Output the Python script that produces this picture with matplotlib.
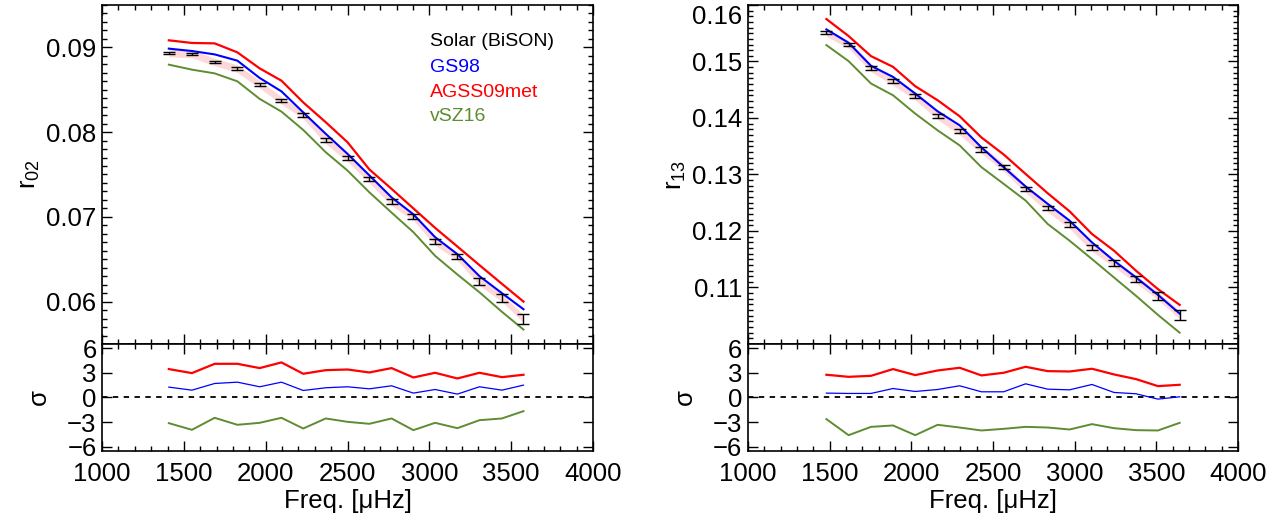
import matplotlib
matplotlib.use('Agg')
import matplotlib.pyplot as plt
from matplotlib.ticker import MultipleLocator

plt.rcParams['font.family'] = ['Liberation Sans', 'DejaVu Sans']
plt.rcParams['mathtext.fontset'] = 'custom'
plt.rcParams['mathtext.rm'] = 'Liberation Sans'
plt.rcParams['mathtext.it'] = 'Liberation Sans'

# r02 ratios (left)
freq02 = [1408, 1549, 1688, 1827, 1963, 2096, 2229, 2367, 2500,
          2633, 2769, 2902, 3035, 3171, 3306, 3443, 3575]
r02_sun = [0.08934, 0.08922, 0.08828, 0.08749, 0.08564, 0.08375, 0.08203, 0.07908, 0.07696,
           0.07448, 0.07177, 0.07004, 0.06709, 0.06532, 0.06237, 0.06045, 0.05797]
r02_err = [0.00015, 0.00015, 0.00015, 0.00018, 0.0002, 0.0002, 0.0002, 0.00025, 0.00025,
           0.00025, 0.0003, 0.0003, 0.0003, 0.00035, 0.0004, 0.0005, 0.0006]
r02_band = 0.00045
r02_gs98 = [0.08985, 0.08957, 0.08917, 0.08843, 0.08639, 0.08481, 0.08233, 0.07979, 0.07743,
            0.0749, 0.0723, 0.0703, 0.0676, 0.0656, 0.0630, 0.0610, 0.0591]
r02_agss09 = [0.09083, 0.09052, 0.09047, 0.08941, 0.08752, 0.08607, 0.08351, 0.08116, 0.07880,
              0.0756, 0.0733, 0.0710, 0.0687, 0.0665, 0.0643, 0.0621, 0.0600]
r02_vsz16 = [0.08796, 0.08737, 0.08693, 0.08599, 0.08392, 0.08242, 0.08026, 0.07762, 0.07546,
             0.0729, 0.0705, 0.0682, 0.0654, 0.0632, 0.0611, 0.0588, 0.0567]
sig02_gs98 = [1.26, 0.89, 1.70, 1.86, 1.30, 1.86, 0.85, 1.18, 1.30,
              1.05, 1.42, 0.53, 0.97, 0.41, 1.30, 0.89, 1.50]
sig02_agss09 = [3.45, 2.96, 4.09, 4.09, 3.57, 4.26, 2.88, 3.32, 3.40,
                3.04, 3.57, 2.43, 3.00, 2.31, 3.00, 2.47, 2.76]
sig02_vsz16 = [-3.12, -3.93, -2.47, -3.32, -3.08, -2.47, -3.77, -2.55, -2.96,
               -3.20, -2.55, -3.97, -3.08, -3.73, -2.76, -2.55, -1.66]

# r13 ratios (right)
freq13 = [1480, 1616, 1753, 1888, 2024, 2161, 2296, 2429, 2565,
          2700, 2835, 2969, 3106, 3241, 3376, 3510, 3643]
r13_sun = [0.15515, 0.15302, 0.14887, 0.14651, 0.14390, 0.14042, 0.13769, 0.13441, 0.13130,
           0.12746, 0.12409, 0.12112, 0.11710, 0.11432, 0.11148, 0.10852, 0.10515]
r13_err = [0.0003, 0.0003, 0.0003, 0.00035, 0.00035, 0.00035, 0.0004, 0.0004, 0.0004,
           0.0004, 0.0004, 0.00045, 0.00045, 0.0005, 0.00055, 0.00065, 0.00086]
r13_band = 0.0007
r13_gs98 = [0.15568, 0.15331, 0.14923, 0.14727, 0.14432, 0.14118, 0.13870, 0.13480, 0.13130,
            0.12787, 0.12480, 0.12183, 0.11798, 0.11473, 0.11177, 0.10869, 0.10538]
r13_agss09 = [0.15751, 0.15450, 0.15095, 0.14905, 0.14562, 0.14314, 0.14030, 0.13656, 0.13355,
              0.13009, 0.12668, 0.12348, 0.11947, 0.11651, 0.11296, 0.10971, 0.10692]
r13_vsz16 = [0.15290, 0.15006, 0.14610, 0.14402, 0.14077, 0.13781, 0.13515, 0.13130, 0.12835,
             0.12538, 0.12124, 0.11828, 0.11503, 0.11177, 0.10852, 0.10515, 0.10200]
sig13_gs98 = [0.53, 0.49, 0.49, 1.09, 0.73, 0.97, 1.42, 0.69, 0.69,
              1.66, 1.01, 0.93, 1.58, 0.61, 0.45, -0.20, 0.08]
sig13_agss09 = [2.76, 2.51, 2.63, 3.45, 2.72, 3.28, 3.61, 2.68, 3.00,
                3.73, 3.20, 3.16, 3.49, 2.80, 2.23, 1.38, 1.54]
sig13_vsz16 = [-2.63, -4.58, -3.57, -3.40, -4.58, -3.32, -3.65, -4.01, -3.81,
               -3.57, -3.65, -3.89, -3.24, -3.73, -3.97, -4.01, -3.08]

legend_names = ['Solar (BiSON)', 'GS98', 'AGSS09met', 'vSZ16']

RED = '#ff0000'
BLUE = '#0000ff'
GREEN = '#5e8c31'
BAND = '#fcd8d8'
FS = 18.5


def style_axis(ax):
    for sp in ax.spines.values():
        sp.set_linewidth(1.2)
    ax.set_xlim(1000, 4000)
    ax.xaxis.set_major_locator(MultipleLocator(500))
    ax.xaxis.set_minor_locator(MultipleLocator(100))
    ax.tick_params(which='both', direction='in', top=True, right=True,
                   labelsize=FS, width=1.0)
    ax.tick_params(which='major', length=7)
    ax.tick_params(which='minor', length=3.5)
    ax.tick_params(axis='y', pad=4)
    ax.tick_params(axis='x', pad=8)


def plot_ratio(ax, freq, sun, err, band, gs98, agss, vsz, ylim, yticks, label):
    lo = [s - band for s in sun]
    hi = [s + band for s in sun]
    ax.fill_between(freq, lo, hi, color=BAND, lw=0, zorder=1)
    ax.plot(freq, agss, color=RED, lw=1.6, zorder=3)
    ax.plot(freq, vsz, color=GREEN, lw=1.4, zorder=3)
    ax.plot(freq, gs98, color=BLUE, lw=1.5, zorder=4)
    ax.errorbar(freq, sun, yerr=err, fmt='none', ecolor='black', elinewidth=1.0,
                capsize=4, capthick=1.0, zorder=5)
    style_axis(ax)
    ax.set_ylim(*ylim)
    ax.set_yticks(yticks)
    ax.set_yticklabels(['%.2f' % t for t in yticks])
    ax.yaxis.set_minor_locator(MultipleLocator(0.001))
    ax.tick_params(axis='x', labelbottom=False)
    ax.set_ylabel(label, fontsize=FS, labelpad=3)


def plot_sigma(ax, freq, s_gs, s_ag, s_vs):
    ax.axhline(0, color='black', lw=1.3, ls=(0, (3, 3)), zorder=2)
    ax.plot(freq, s_ag, color=RED, lw=1.6, zorder=3)
    ax.plot(freq, s_gs, color=BLUE, lw=0.9, zorder=3)
    ax.plot(freq, s_vs, color=GREEN, lw=1.4, zorder=3)
    style_axis(ax)
    ax.set_ylim(-6.5, 6.5)
    ax.set_yticks([-6, -3, 0, 3, 6])
    ax.yaxis.set_minor_locator(plt.NullLocator())
    ax.set_ylabel('σ', fontsize=FS, labelpad=12)
    ax.set_xlabel('Freq. [μHz]', fontsize=FS, labelpad=2)


def main():
    fig = plt.figure(figsize=(12.87, 5.25), dpi=100)

    ax_l = fig.add_axes([0.0793, 0.3448, 0.3815, 0.6457])
    ax_lb = fig.add_axes([0.0793, 0.1410, 0.3815, 0.2038])
    ax_r = fig.add_axes([0.5812, 0.3448, 0.3807, 0.6457])
    ax_rb = fig.add_axes([0.5812, 0.1410, 0.3807, 0.2038])

    plot_ratio(ax_l, freq02, r02_sun, r02_err, r02_band, r02_gs98, r02_agss09, r02_vsz16,
               (0.055, 0.095), [0.06, 0.07, 0.08, 0.09], 'r$_{02}$')
    plot_ratio(ax_r, freq13, r13_sun, r13_err, r13_band, r13_gs98, r13_agss09, r13_vsz16,
               (0.10, 0.16), [0.11, 0.12, 0.13, 0.14, 0.15, 0.16], 'r$_{13}$')
    ax_r.get_yticklabels()[-1].set_va('top')

    plot_sigma(ax_lb, freq02, sig02_gs98, sig02_agss09, sig02_vsz16)
    plot_sigma(ax_rb, freq13, sig13_gs98, sig13_agss09, sig13_vsz16)

    colors = ['black', BLUE, RED, GREEN]
    ys = [0.891, 0.817, 0.743, 0.670]
    for name, c, y in zip(legend_names, colors, ys):
        ax_l.text(0.668, y, name, color=c, fontsize=14, transform=ax_l.transAxes,
                  va='center', ha='left')

    fig.savefig('out.png', dpi=100)


if __name__ == '__main__':
    main()
